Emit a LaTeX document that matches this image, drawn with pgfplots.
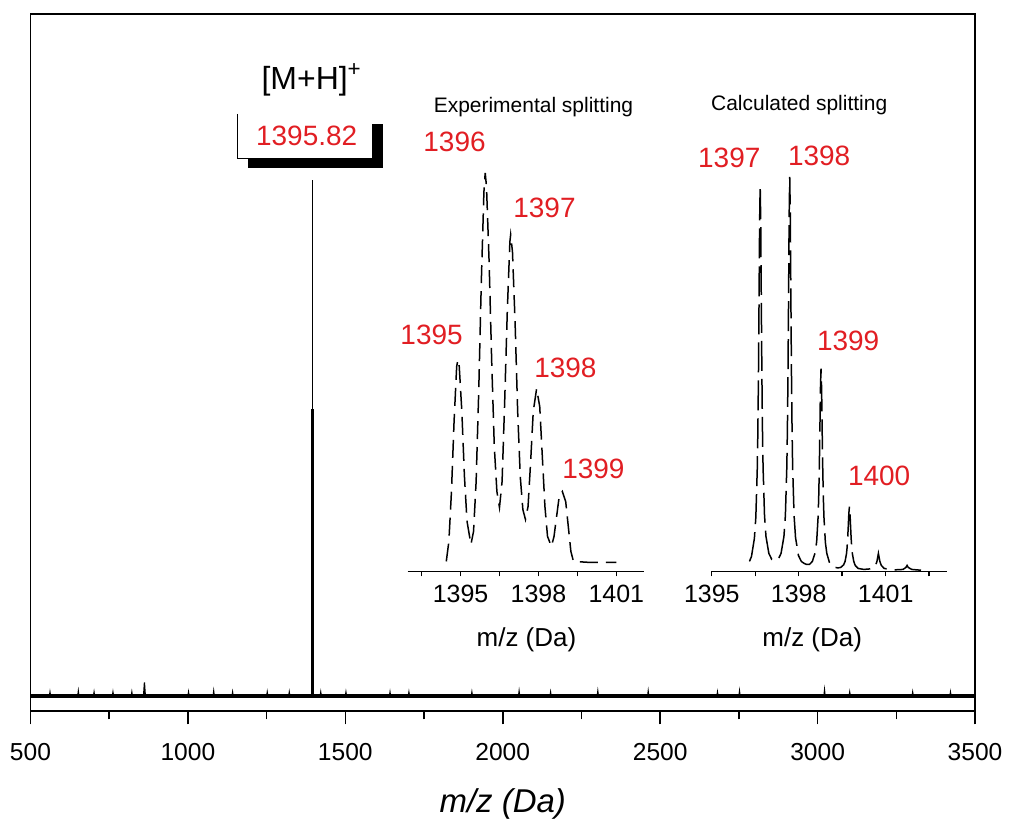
\documentclass[border=0pt]{standalone}
\usepackage{fontspec}
\setmainfont{Liberation Sans}
\usepackage{pgfplots}
\pgfplotsset{compat=1.18}
\definecolor{lblred}{RGB}{225,30,35}
\begin{document}
\begin{tikzpicture}
\begin{scope}[x=0.5pt,y=-0.5pt,shift={(0pt,411pt)}]
\path[use as bounding box] (0,0) rectangle (1009,822);
\end{scope}
% ---------------- main spectrum ----------------
\begin{axis}[
  scale only axis, width=472.75pt, height=349pt,
  at={(15.25pt,55pt)}, anchor=south west,
  xmin=500, xmax=3500, ymin=0, ymax=698,
  xtick={500,1000,...,3500}, minor xtick={750,1250,...,3250},
  ytick=\empty, xtick pos=bottom,
  xtick align=outside, major tick length=6.5pt, minor tick length=4pt,
  tick style={black, line width=0.8pt},
  axis line style={line width=0.8pt},
  /pgf/number format/assume math mode=true,
  /pgf/number format/set thousands separator={},
  xticklabel style={font=\fontsize{12.3}{14}\selectfont, yshift=-6pt},
  xlabel={\itshape m/z (Da)},
  xlabel style={font=\fontsize{16.5}{18}\selectfont, yshift=-7pt},
  clip=false,
]
\addplot[black, line width=2pt] coordinates {(500,15)(3500,15)};
\addplot[black, line width=0.6pt, line join=miter] coordinates {
(500,15)(560,15)(562,19)(564,15)(650,15)(652,20)(654,15)(700,15)(702,19)(704,15)
(760,15)(762,19)(764,15)(820,15)(822,19)(824,15)(859,15)(862,29)(865,15)
(1000,15)(1002,19)(1004,15)(1080,15)(1082,20)(1084,15)(1140,15)(1142,19)(1144,15)
(1250,15)(1252,19)(1254,15)(1320,15)(1322,19)(1324,15)(1420,15)(1422,19)(1424,15)
(1500,15)(1502,19)(1504,15)(1640,15)(1642,19)(1644,15)(1700,15)(1702,19)(1704,15)
(1900,15)(1902,19)(1904,15)(2050,15)(2052,20)(2054,15)(2150,15)(2152,19)(2154,15)
(2300,15)(2302,20)(2304,15)(2460,15)(2462,20)(2464,15)(2680,15)(2682,19)(2684,15)
(2750,15)(2752,20)(2754,15)(3020,15)(3022,21)(3024,15)(3100,15)(3102,19)(3104,15)
(3300,15)(3302,19)(3304,15)(3420,15)(3422,19)(3424,15)(3500,15)};
\addplot[black, line width=0.7pt] coordinates {(1395.82,15)(1395.82,532)};
\addplot[black, line width=1.4pt] coordinates {(1395.82,15)(1395.82,303)};
\end{axis}
% ---------------- experimental inset ----------------
\begin{axis}[
  scale only axis, width=118.5pt, height=210pt,
  at={(204pt,125pt)}, anchor=south west,
  xmin=1392.96, xmax=1402.08, ymin=0, ymax=420,
  axis x line=bottom, axis y line=none, axis line style={-, line width=0.7pt},
  xtick={1395,1398,1401}, minor xtick={1393.5,1396.5,1399.5},
  xtick align=outside, major tick length=2.5pt, minor tick length=2.5pt,
  tick style={black, line width=0.7pt},
  /pgf/number format/assume math mode=true,
  /pgf/number format/set thousands separator={},
  xticklabel style={font=\fontsize{12.5}{14}\selectfont, yshift=-1pt},
  clip=false,
]
\addplot[black, line width=0.75pt, dash pattern=on 9pt off 4pt] coordinates {
(1394.45,10)(1394.55,30)(1394.65,80)(1394.75,150)(1394.85,205)(1394.9,212)
(1394.95,205)(1395.05,160)(1395.15,95)(1395.25,50)(1395.4,27)
(1395.5,40)(1395.6,90)(1395.7,180)(1395.8,290)(1395.9,380)(1395.95,399)
(1396.0,385)(1396.1,310)(1396.2,210)(1396.3,125)(1396.4,80)(1396.5,64)
(1396.6,90)(1396.7,170)(1396.8,260)(1396.9,330)(1396.93,337)(1397.0,320)
(1397.1,250)(1397.2,160)(1397.3,95)(1397.4,62)(1397.5,52)
(1397.6,65)(1397.7,110)(1397.8,160)(1397.93,183)(1398.05,165)(1398.15,115)
(1398.25,65)(1398.35,35)(1398.5,25)
(1398.6,35)(1398.7,55)(1398.8,75)(1398.92,80)(1399.05,70)(1399.15,45)
(1399.25,20)(1399.35,10)(1400,9)(1401,9)};
\end{axis}
% ---------------- calculated inset ----------------
\begin{axis}[
  scale only axis, width=117.75pt, height=210pt,
  at={(356.25pt,125pt)}, anchor=south west,
  xmin=1395, xmax=1403.12, ymin=0, ymax=420,
  axis x line=bottom, axis y line=none, axis line style={-, line width=0.7pt},
  xtick={1395,1398,1401}, minor xtick={1396.5,1399.5,1402.5},
  xtick align=outside, major tick length=2.5pt, minor tick length=2.5pt,
  tick style={black, line width=0.7pt},
  /pgf/number format/assume math mode=true,
  /pgf/number format/set thousands separator={},
  xticklabel style={font=\fontsize{12.5}{14}\selectfont, yshift=-1pt},
  clip=false,
]
\addplot[black, line width=0.75pt, dash pattern=on 15pt off 4pt] coordinates {
(1396.30,10)(1396.37,15)(1396.47,33)(1396.52,54)(1396.57,103)(1396.59,140)
(1396.61,194)(1396.63,267)(1396.65,348)(1396.67,386)(1396.69,348)(1396.71,267)
(1396.73,194)(1396.75,140)(1396.77,104)(1396.82,56)(1396.87,35)(1396.97,18)
(1397.07,12)(1397.17,11)(1397.29,12)(1397.39,18)(1397.49,35)(1397.54,56)
(1397.59,105)(1397.61,143)(1397.63,198)(1397.65,273)(1397.67,356)(1397.69,395)
(1397.71,356)(1397.73,273)(1397.75,198)(1397.77,143)(1397.79,105)(1397.84,56)
(1397.89,34)(1397.99,16)(1398.09,10)(1398.19,8)(1398.27,7)(1398.37,7)
(1398.47,10)(1398.57,19)(1398.62,30)(1398.67,55)(1398.69,74)(1398.71,102)
(1398.73,140)(1398.75,183)(1398.77,203)(1398.79,183)(1398.81,140)(1398.83,102)
(1398.85,74)(1398.87,55)(1398.92,29)(1398.97,18)(1399.07,8)(1399.17,5)
(1399.27,4)(1399.35,3.5)(1399.45,4)(1399.55,6.6)(1399.6,10)(1399.65,18)
(1399.67,24)(1399.69,33)(1399.71,45)(1399.73,58)(1399.75,65)(1399.77,58)
(1399.79,45)(1399.81,33)(1399.83,24)(1399.85,18)(1399.9,10)(1399.95,6)
(1400.05,3)(1400.25,2)(1400.45,2.5)(1400.55,3)(1400.65,6)(1400.7,10)
(1400.75,18)(1400.8,10)(1400.85,6)(1400.95,3)(1401.25,1.5)(1401.6,2)
(1401.7,4)(1401.74,6)(1401.78,4)(1401.9,2)(1402.3,1)};
\end{axis}
% ---------------- annotations ----------------
\begin{scope}[x=0.5pt,y=-0.5pt,shift={(0pt,411pt)}]
\node[font=\fontsize{16}{18}\selectfont] at (312,80) {[M+H]\textsuperscript{+}};
\node[font=\fontsize{14}{16}\selectfont, text=lblred] at (307,136) {1395.82};
\draw[line width=0.6pt] (237.5,114)--(237.5,159)--(373,159);
\fill (372,124) rectangle (383,168);
\fill (248,158.5) rectangle (383,168);
\node[font=\fontsize{10.5}{12}\selectfont] at (534,107) {Experimental splitting};
\node[font=\fontsize{10.5}{12}\selectfont] at (800,105) {Calculated splitting};
\begin{scope}[every node/.style={font=\fontsize{14}{16}\selectfont, text=lblred}]
\node at (455,142) {1396};
\node at (545,208) {1397};
\node at (432,335) {1395};
\node at (566,368) {1398};
\node at (594,469) {1399};
\node at (730,158) {1397};
\node at (820,156) {1398};
\node at (849,341) {1399};
\node at (880,476) {1400};
\end{scope}
\node[font=\fontsize{13}{15}\selectfont] at (527,640) {m/z (Da)};
\node[font=\fontsize{13}{15}\selectfont] at (813,640) {m/z (Da)};
\end{scope}
\end{tikzpicture}
\end{document}
